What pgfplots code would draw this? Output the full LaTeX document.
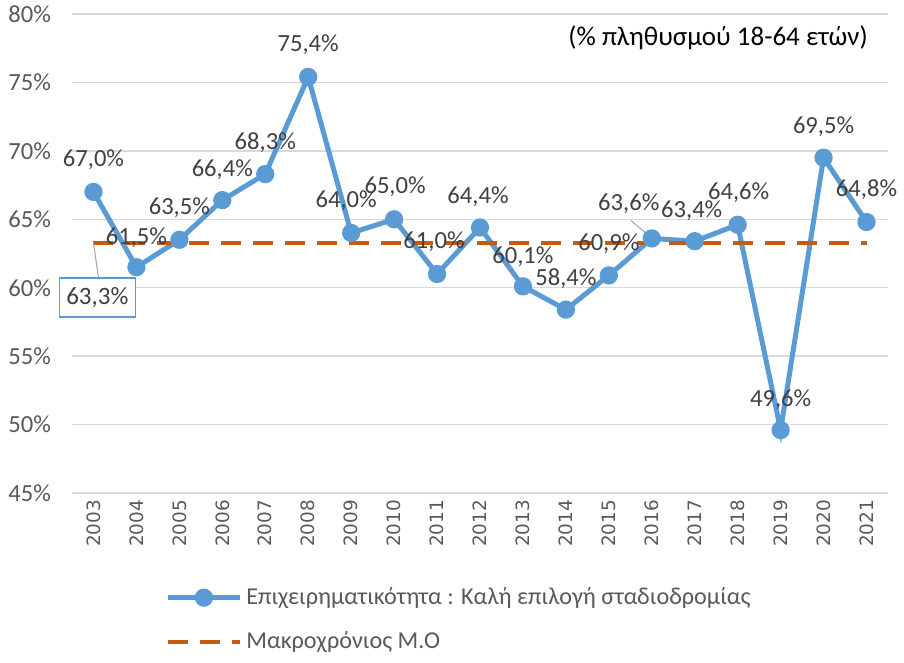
\documentclass[border=0pt]{standalone}
\usepackage{fontspec}
\setmainfont{Carlito}
\newfontfamily\yearfont{DejaVu Sans}
\usepackage{pgfplots}
\pgfplotsset{compat=1.18}
\usepackage{pgfplotstable}
\definecolor{lineblue}{HTML}{5B9BD5}
\definecolor{avgorange}{HTML}{C55A11}
\definecolor{gridgrey}{HTML}{D9D9D9}
\definecolor{labelgrey}{HTML}{404040}
\definecolor{tickgrey}{HTML}{595959}

% year index, value, label offsets (pt)
\pgfplotstableread{
x y dx dy
0 67.0 0 16
1 61.5 0 15
2 63.5 0 16
3 66.4 0 15
4 68.3 0 15.5
5 75.4 0 16
6 64.0 -2.5 16
7 65.0 0.5 16.5
8 61.0 -1.5 16
9 64.4 -1 15.5
10 60.1 0 15
11 58.4 0 15.5
12 60.9 0 16
13 63.6 -11.5 17.5
14 63.4 -1.5 15
15 64.6 0.5 16
16 49.6 0 15
17 69.5 0 15.5
18 64.8 0 16
}\maindata

\begin{document}
\begin{tikzpicture}
\useasboundingbox (-36pt,-85pt) rectangle (416pt,246.5pt);
\begin{axis}[
  scale only axis, width=408pt, height=239.5pt,
  xmin=-0.5, xmax=18.5, ymin=45, ymax=80,
  xtick={0,...,18},
  xticklabels={2003,2004,2005,2006,2007,2008,2009,2010,2011,2012,2013,2014,2015,2016,2017,2018,2019,2020,2021},
  xticklabel style={rotate=90, anchor=east, font=\yearfont\fontsize{9.2}{11}\selectfont, text=tickgrey},
  ytick={45,50,...,80},
  yticklabel={\pgfmathprintnumber{\tick}\%},
  yticklabel style={font=\fontsize{12.3}{14}\selectfont, text=tickgrey, xshift=-7pt},
  /pgf/number format/assume math mode=true,
  ymajorgrids, grid style={gridgrey, line width=0.75pt},
  axis line style={draw=none}, major tick length=0pt,
  clip=false,
  legend cell align=left,
  legend style={at={(0.1066,-0.180)}, anchor=north west, draw=none, fill=none,
    font=\fontsize{12.1}{14}\selectfont, text=tickgrey, row sep=8pt},
  legend image code/.code={\draw[#1, mark repeat=2, mark phase=2] plot coordinates {(0pt,0pt) (18pt,0pt) (36pt,0pt)};},
]
\addplot[lineblue, line width=2.5pt, mark=*, mark size=3.3pt,
  visualization depends on={\thisrow{dx} \as \dx},
  visualization depends on={\thisrow{dy} \as \dy},
  nodes near coords={\pgfmathprintnumber[fixed, fixed zerofill, precision=1, use comma]{\pgfplotspointmeta}\%},
  nodes near coords style={anchor=center, xshift=\dx pt, yshift=\dy pt, text=labelgrey, font=\fontsize{12.3}{14}\selectfont}]
  table[x=x, y=y] {\maindata};
\addlegendentry{Επιχειρηματικότητα : Καλή επιλογή σταδιοδρομίας}
\addplot[avgorange, line width=2pt, dash pattern=on 10pt off 6pt] coordinates {(0,63.3) (18,63.3)};
\addlegendentry{Μακροχρόνιος Μ.Ο}
% leader of the 2016 label
\draw[gray!70, line width=0.5pt] (axis cs:13,63.6) ++(-1.5pt,1.5pt) -- ++(-9pt,7.5pt);
% callout of the long-run average
\draw[gray!70, line width=0.5pt] (axis cs:0,63.3) -- ++(2.5pt,-17.5pt);
\node[draw=lineblue, line width=0.6pt, fill=white, minimum width=38pt, minimum height=19.5pt, inner sep=0pt,
  text=labelgrey, font=\fontsize{12.5}{14}\selectfont] at (axis cs:0.09,59.28) {63,3\%};
\node[font=\fontsize{13.5}{16}\selectfont, text=black] at (rel axis cs:0.7917,0.950) {(\% πληθυσμού 18-64 ετών)};
\end{axis}
\end{tikzpicture}
\end{document}
